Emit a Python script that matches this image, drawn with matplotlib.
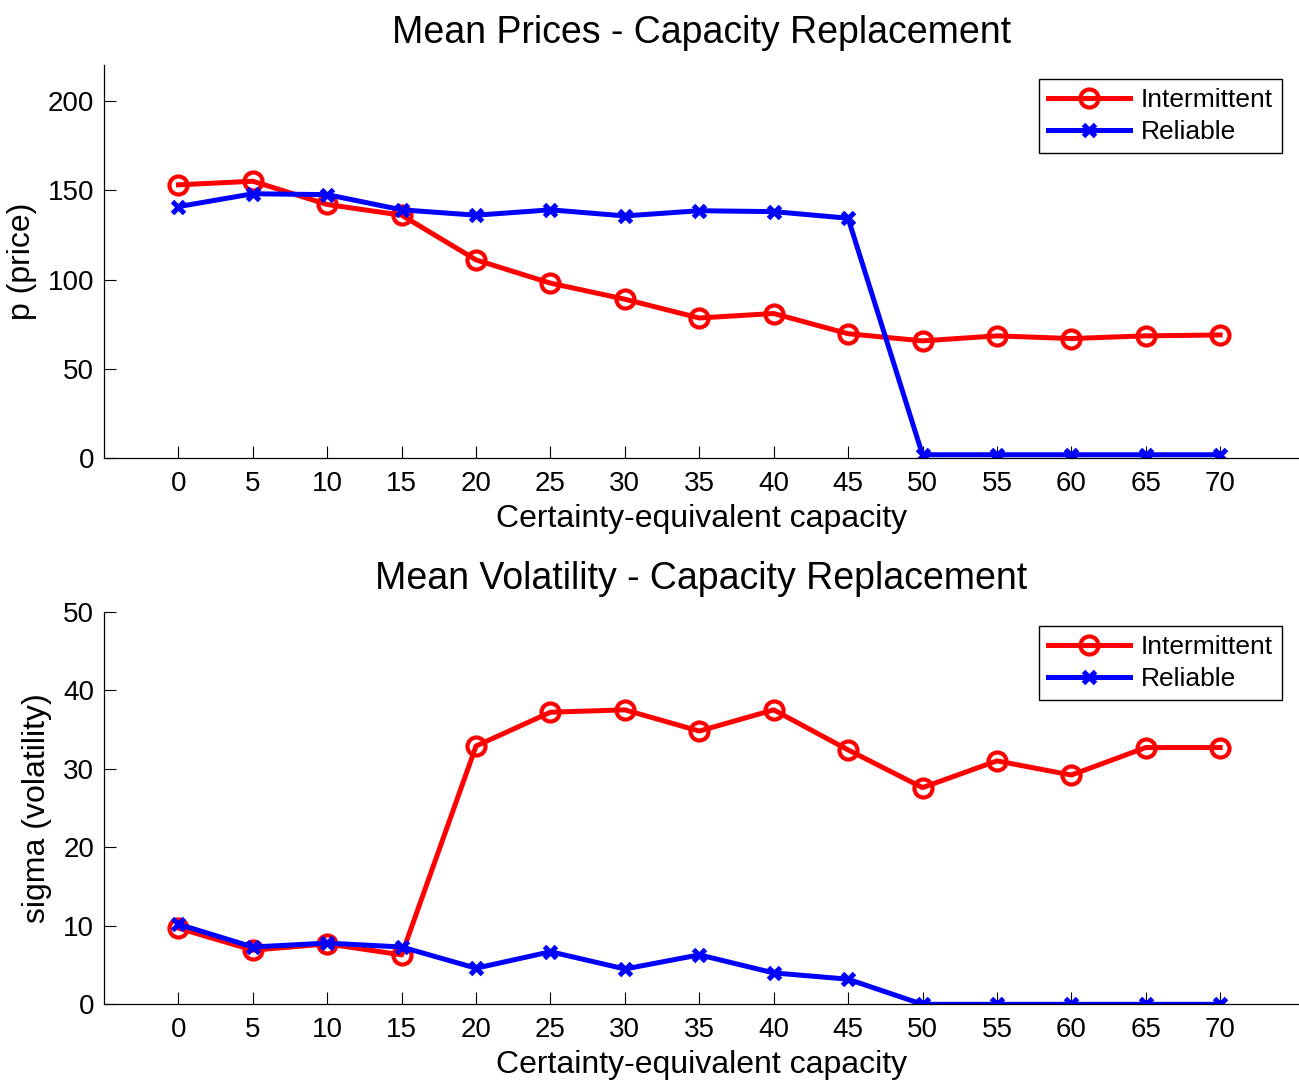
import matplotlib
matplotlib.use("Agg")
import matplotlib.pyplot as plt

plt.rcParams['font.family'] = ['Liberation Sans', 'DejaVu Sans']

capacity = [0, 5, 10, 15, 20, 25, 30, 35, 40, 45, 50, 55, 60, 65, 70]

# mean prices
price_intermittent = [153, 155, 142, 136, 111, 98, 89, 78.5, 81, 69.7, 65.7, 68.5, 67, 68.5, 69]
price_reliable = [140.8, 148, 147.5, 139, 136, 139, 135.6, 138.5, 138, 134.3, 2, 2, 2, 2, 2]

# mean volatility
vol_intermittent = [9.7, 6.9, 7.7, 6.3, 32.9, 37.2, 37.5, 34.8, 37.5, 32.4, 27.6, 31, 29.2, 32.7, 32.7]
vol_reliable = [10.2, 7.3, 7.8, 7.3, 4.6, 6.7, 4.5, 6.3, 4.0, 3.2, 0, 0, 0, 0, 0]


def draw_panel(ax, y_int, y_rel, title, ylabel, ylim, yticks):
    ax.plot(capacity, y_int, color='red', lw=3.6, marker='o', ms=13,
            mfc='none', mec='red', mew=3, label='Intermittent')
    ax.plot(capacity, y_rel, color='blue', lw=3.6, marker='x', ms=9,
            mec='blue', mew=3.6, label='Reliable')
    ax.set_xlim(-5, 75.3)
    ax.set_ylim(*ylim)
    ax.set_xticks(capacity)
    ax.set_yticks(yticks)
    ax.spines['top'].set_visible(False)
    ax.spines['right'].set_visible(False)
    for s in ('left', 'bottom'):
        ax.spines[s].set_linewidth(0.9)
    ax.tick_params(direction='in', length=8.4, width=0.8, pad=7, labelsize=20)
    ax.tick_params(axis='x', pad=9)
    ax.set_title(title, fontsize=27, pad=16)
    ax.set_xlabel('Certainty-equivalent capacity', fontsize=23, labelpad=5)
    ax.set_ylabel(ylabel, fontsize=23, labelpad=8)
    leg = ax.legend(loc='upper right', bbox_to_anchor=(0.9858, 0.9644), borderaxespad=0,
                    fontsize=19, handlelength=3.1, numpoints=1, fancybox=False,
                    framealpha=1, edgecolor='black', handletextpad=0.4,
                    borderpad=0.35, labelspacing=0.3)
    leg.get_frame().set_linewidth(1)


fig = plt.figure(figsize=(12.99, 10.84), dpi=100)
ax1 = fig.add_axes([0.0801, 0.5772, 0.9199, 0.3628])
ax2 = fig.add_axes([0.0801, 0.0735, 0.9199, 0.3622])

draw_panel(ax1, price_intermittent, price_reliable, 'Mean Prices - Capacity Replacement',
           'p (price)', (0, 220), [0, 50, 100, 150, 200])
draw_panel(ax2, vol_intermittent, vol_reliable, 'Mean Volatility - Capacity Replacement',
           'sigma (volatility)', (0, 50), [0, 10, 20, 30, 40, 50])

fig.savefig('out.png', dpi=100)
